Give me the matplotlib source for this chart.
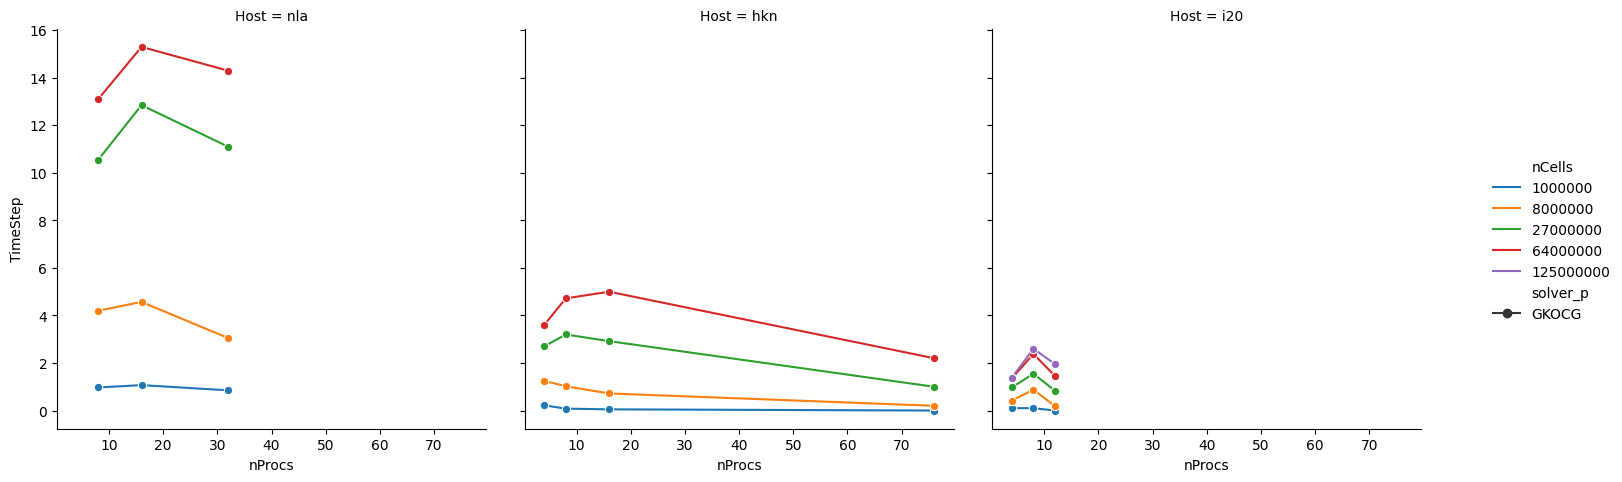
import pandas as pd
import seaborn as sns
import matplotlib
matplotlib.use("Agg")
import matplotlib.pyplot as plt

hosts = ["nla", "hkn", "i20"]
procs = {"nla": [8, 16, 32], "hkn": [4, 8, 16, 76], "i20": [4, 8, 12]}
cells = [1000000, 8000000, 27000000, 64000000, 125000000]
times = {
    "nla": {1000000: [0.97, 1.07, 0.85], 8000000: [4.2, 4.57, 3.05],
            27000000: [10.55, 12.85, 11.1], 64000000: [13.1, 15.3, 14.3]},
    "hkn": {1000000: [0.22, 0.08, 0.05, 0.0], 8000000: [1.25, 1.02, 0.72, 0.2],
            27000000: [2.7, 3.2, 2.92, 1.0], 64000000: [3.6, 4.72, 5.0, 2.2]},
    "i20": {1000000: [0.1, 0.1, 0.0], 8000000: [0.42, 0.88, 0.18],
            27000000: [0.97, 1.55, 0.83], 64000000: [1.35, 2.38, 1.45],
            125000000: [1.38, 2.6, 1.95]},
}

rows = []
for h in hosts:
    for c, vals in times[h].items():
        for p, t in zip(procs[h], vals):
            rows.append({"Host": h, "nCells": str(c), "nProcs": p, "TimeStep": t, "solver_p": "GKOCG"})
df = pd.DataFrame(rows)

g = sns.relplot(data=df, x="nProcs", y="TimeStep", col="Host", hue="nCells",
                hue_order=[str(c) for c in cells], style="solver_p", markers=["o"],
                dashes=False, kind="line", height=4.8, aspect=1.0, palette="tab10")
g.figure.set_size_inches(16.28, 5.0)
g.figure.subplots_adjust(left=0.04, right=0.878, bottom=0.13, top=0.93, wspace=0.09)
g.savefig("out.png", dpi=100)
